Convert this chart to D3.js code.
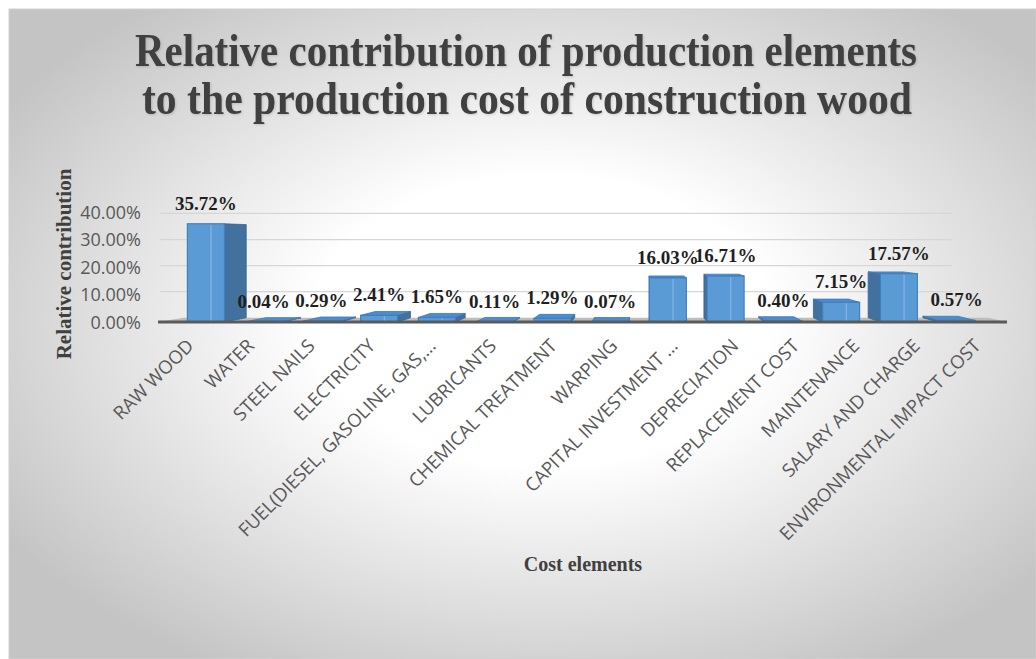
<!DOCTYPE html>
<html>
<head>
<meta charset="utf-8">
<script src="https://cdn.jsdelivr.net/npm/d3@7/dist/d3.min.js"></script>
<style>
  html, body { margin: 0; padding: 0; background: #ffffff; }
  svg { display: block; }
</style>
</head>
<body>
<svg id="chart" width="1036" height="659"></svg>
<script>
// ---------- data ----------
const categories = [
  "RAW WOOD", "WATER", "STEEL NAILS", "ELECTRICITY", "FUEL(DIESEL, GASOLINE, GAS,\u2026",
  "LUBRICANTS", "CHEMICAL TREATMENT", "WARPING", "CAPITAL INVESTMENT \u2026",
  "DEPRECIATION", "REPLACEMENT COST", "MAINTENANCE", "SALARY AND CHARGE",
  "ENVIRONMENTAL IMPACT COST"
];
const values = [0.3572, 0.0004, 0.0029, 0.0241, 0.0165, 0.0011, 0.0129, 0.0007,
                0.1603, 0.1671, 0.0040, 0.0715, 0.1757, 0.0057];
const yTicks = [0, 0.10, 0.20, 0.30, 0.40];
const titleLines = ["Relative contribution of production elements",
                    "to the production cost of construction wood"];
const yTitle = "Relative contribution";
const xTitle = "Cost elements";

// ---------- setup ----------
const svg = d3.select("#chart");
const W = 1036, H = 659;

const defs = svg.append("defs");
const grad = defs.append("radialGradient").attr("id", "bg")
  .attr("cx", "52%").attr("cy", "48%").attr("r", "62%");
grad.append("stop").attr("offset", "0%").attr("stop-color", "#ffffff");
grad.append("stop").attr("offset", "36%").attr("stop-color", "#ffffff");
grad.append("stop").attr("offset", "100%").attr("stop-color", "#c4c4c4");
const sh = defs.append("filter").attr("id", "shadow").attr("x", "-5%").attr("y", "-20%")
  .attr("width", "110%").attr("height", "140%");
sh.append("feDropShadow").attr("dx", 1).attr("dy", 1).attr("stdDeviation", 0.8)
  .attr("flood-color", "#000").attr("flood-opacity", 0.15);

svg.append("rect").attr("x", 9).attr("y", 9).attr("width", W - 9).attr("height", H - 9)
  .attr("fill", "url(#bg)").attr("stroke", "#d0d0d0").attr("stroke-width", 1);

// scales
const x = d3.scaleBand().domain(categories).range([177, 985.5]).padding(0);
const y = d3.scaleLinear().domain([0, 0.40]).range([322, 212]);
const barW = x.bandwidth() * 0.64;

// perspective helpers
const V = { x: 645, y: 240 }, T = 0.052;
const back = p => [p[0] + (V.x - p[0]) * T, p[1] + (V.y - p[1]) * T];
// front edge of the floor (labels sit there): slightly wider than the bar row
const front = cx => cx - 11 + 0.048 * (cx - 206);

// ---------- gridlines ----------
const grid = svg.append("g");
yTicks.filter(d => d > 0).forEach(t => {
  const yy = back([0, y(t)])[1];
  grid.append("line").attr("x1", 160).attr("x2", 952)
    .attr("y1", yy).attr("y2", yy)
    .attr("stroke", "#d6d6d6").attr("stroke-width", 1.2);
});

// floor
const fx0 = 158, fx1 = 1007, fy = y(0);
const b0 = back([fx0, fy]), b1 = back([fx1, fy]);
svg.append("polygon")
  .attr("points", [[fx0, fy], [fx1, fy], b1, b0].map(p => p.join(",")).join(" "))
  .attr("fill", "#bdbdbd");

// ---------- bars ----------
const bars = svg.append("g");
categories.forEach((c, i) => {
  const v = values[i];
  const cx = x(c) + x.bandwidth() / 2;
  const x0 = cx - barW / 2, x1 = cx + barW / 2;
  const top = y(v), base = y(0);
  const g = bars.append("g");
  const ftl = [x0, top], ftr = [x1, top], fbl = [x0, base], fbr = [x1, base];
  const btl = back(ftl), btr = back(ftr), bbl = back(fbl), bbr = back(fbr);
  const poly = pts => pts.map(p => p.join(",")).join(" ");
  if (x1 < V.x) {
    g.append("polygon").attr("points", poly([ftr, btr, bbr, fbr]))
      .attr("fill", "#41719c").attr("stroke", "#3a6590").attr("stroke-width", 0.8);
  } else if (x0 > V.x) {
    g.append("polygon").attr("points", poly([ftl, btl, bbl, fbl]))
      .attr("fill", "#41719c").attr("stroke", "#3a6590").attr("stroke-width", 0.8);
  }
  if (top > V.y) {
    g.append("polygon").attr("points", poly([ftl, ftr, btr, btl]))
      .attr("fill", "#4f8ccc").attr("stroke", "#3b78bd").attr("stroke-width", 0.8);
  }
  g.append("rect").attr("x", x0).attr("y", top).attr("width", barW)
    .attr("height", Math.max(0, base - top))
    .attr("fill", "#5b9bd5").attr("stroke", "#3f7fc4").attr("stroke-width", 1.2);
  if (base - top > 4) {
    g.append("line").attr("x1", x0 + barW * 0.64).attr("x2", x0 + barW * 0.64)
      .attr("y1", top + 1).attr("y2", base - 1)
      .attr("stroke", "#8dbbe6").attr("stroke-width", 1);
  }
});

// baseline
svg.append("line").attr("x1", fx0).attr("x2", fx1).attr("y1", fy).attr("y2", fy)
  .attr("stroke", "#5a5a5a").attr("stroke-width", 3);

// ---------- data labels ----------
svg.append("g").selectAll("text").data(categories).join("text")
  .attr("x", c => x(c) + x.bandwidth() / 2)
  .attr("y", (c, i) => y(values[i]) - 14)
  .attr("text-anchor", "middle")
  .attr("font-family", "'Liberation Serif', 'Times New Roman', serif")
  .attr("font-weight", "bold").attr("font-size", 19).attr("fill", "#1f1f1f")
  .text((c, i) => (values[i] * 100).toFixed(2) + "%");

// ---------- y axis labels ----------
const yAxis = d3.axisLeft(y).tickValues(yTicks).tickFormat(d3.format(".2%")).tickSize(0).tickPadding(0);
const ya = svg.append("g").attr("transform", "translate(141,0)").call(yAxis);
ya.select(".domain").remove();
ya.selectAll("text").attr("font-family", "'Open Sans', sans-serif").attr("font-size", 18)
  .attr("fill", "#595959").attr("dy", "0.36em");

// ---------- x axis labels ----------
const xAxis = d3.axisBottom(x).tickSize(0).tickPadding(0);
const xa = svg.append("g").call(xAxis);
xa.select(".domain").remove();
xa.selectAll(".tick").attr("transform", c => `translate(${front(x(c) + x.bandwidth() / 2)},347)`);
xa.selectAll("text")
  .attr("font-family", "'Open Sans', sans-serif").attr("font-size", 18.5).attr("fill", "#595959")
  .attr("text-anchor", "end").attr("dy", 0).attr("y", 0)
  .attr("transform", "rotate(-45)");

// ---------- titles ----------
const tt = svg.append("g").attr("filter", "url(#shadow)");
tt.append("text").attr("x", 526).attr("y", 66).attr("text-anchor", "middle")
  .attr("font-family", "'Liberation Serif', 'Times New Roman', serif").attr("font-weight", "bold")
  .attr("font-size", 46).attr("fill", "#404040")
  .attr("textLength", 782).attr("lengthAdjust", "spacingAndGlyphs")
  .text(titleLines[0]);
tt.append("text").attr("x", 527).attr("y", 114).attr("text-anchor", "middle")
  .attr("font-family", "'Liberation Serif', 'Times New Roman', serif").attr("font-weight", "bold")
  .attr("font-size", 46).attr("fill", "#404040")
  .attr("textLength", 770).attr("lengthAdjust", "spacingAndGlyphs")
  .text(titleLines[1]);

svg.append("text").attr("transform", "translate(71,264) rotate(-90)")
  .attr("text-anchor", "middle")
  .attr("font-family", "'Liberation Serif', 'Times New Roman', serif").attr("font-weight", "bold")
  .attr("font-size", 21).attr("fill", "#404040").text(yTitle);

svg.append("text").attr("x", 583).attr("y", 571).attr("text-anchor", "middle")
  .attr("font-family", "'Liberation Serif', 'Times New Roman', serif").attr("font-weight", "bold")
  .attr("font-size", 20).attr("fill", "#404040").text(xTitle);
</script>
</body>
</html>
